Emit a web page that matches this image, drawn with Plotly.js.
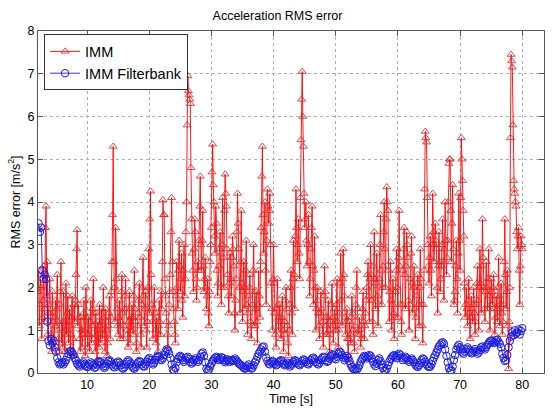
<!DOCTYPE html>
<html>
<head>
<meta charset="utf-8">
<script src="https://cdn.plot.ly/plotly-3.0.1.min.js"></script>
<style>html,body{margin:0;padding:0;background:#fff;}#chart{width:555px;height:410px;}</style>
</head>
<body>
<div id="chart"></div>
<script>
// Sampling of each series: first sample time and step (s)
var immStart = 2.1, immStep = 0.1;
var fbStart = 2.2, fbStep = 0.2;

// IMM acceleration RMS error [m/s^2], 10 samples per second from 2.1 s to 80.0 s
var immValues = [
  1.9, 2.4, 1.1, 1.6, 2.2, 2.0, 0.8, 1.3, 1.7, 2.5,
  1.2, 1.5, 3.4, 3.9, 1.8, 2.6, 0.9, 1.4, 1.6, 2.2,
  1.4, 0.9, 0.5, 1.9, 1.2, 0.6, 0.8, 1.3, 1.7, 1.1,
  1.5, 2.3, 1.0, 0.8, 0.5, 1.6, 1.9, 2.6, 0.7, 1.2,
  0.6, 1.9, 1.2, 0.5, 1.0, 2.1, 0.9, 1.4, 1.8, 0.7,
  1.1, 1.5, 0.5, 0.9, 1.3, 1.8, 0.8, 0.4, 1.6, 1.2,
  1.7, 2.3, 2.9, 3.35, 1.1, 1.6, 1.3, 0.8, 0.5, 1.3,
  1.0, 0.6, 0.9, 1.4, 1.7, 1.0, 0.4, 2.0, 1.3, 0.9,
  0.6, 1.3, 0.9, 0.5, 1.2, 1.7, 0.7, 1.1, 1.5, 2.2,
  1.4, 0.8, 0.5, 1.4, 0.9, 0.3, 1.2, 1.0, 0.6, 1.6,
  1.1, 0.7, 1.5, 1.2, 0.8, 2.0, 1.3, 0.9, 0.5, 1.5,
  1.0, 0.4, 0.7, 1.1, 1.4, 1.8, 0.8, 1.3, 1.9, 2.6,
  3.7, 5.3, 2.6, 2.0, 1.2, 3.4, 2.2, 1.5, 1.1, 0.9,
  1.3, 1.7, 0.8, 1.2, 1.9, 2.3, 1.4, 0.8, 1.1, 1.5,
  1.8, 2.2, 1.5, 1.0, 0.9, 0.6, 1.2, 1.9, 0.7, 1.3,
  1.0, 1.6, 1.3, 0.9, 1.8, 2.4, 1.5, 1.2, 0.5, 0.7,
  1.1, 1.4, 1.7, 2.1, 1.3, 0.9, 0.6, 1.6, 2.0, 2.7,
  1.8, 1.1, 1.5, 1.9, 1.0, 0.6, 1.2, 2.0, 2.9, 1.4,
  3.6, 4.25, 2.3, 1.6, 1.2, 0.8, 1.5, 2.0, 1.4, 1.0,
  0.7, 1.3, 0.9, 0.5, 1.1, 1.7, 1.2, 0.9, 1.9, 1.5,
  2.6, 4.05, 3.7, 3.7, 2.2, 1.8, 1.4, 1.2, 0.9, 0.6,
  1.1, 1.6, 1.9, 2.3, 3.3, 4.1, 2.6, 1.9, 1.5, 1.2,
  0.9, 0.7, 1.8, 2.6, 2.0, 1.5, 2.4, 3.1, 2.5, 1.9,
  2.2, 2.8, 1.7, 1.3, 2.4, 3.0, 1.8, 2.2, 3.3, 4.0,
  5.8, 6.95, 6.6, 6.5, 6.4, 6.3, 4.8, 3.6, 2.8, 2.4,
  1.9, 2.9, 3.6, 3.3, 2.2, 1.7, 2.0, 2.6, 2.4, 3.1,
  3.9, 4.6, 3.0, 2.4, 3.1, 3.8, 2.5, 1.9, 2.2, 2.7,
  2.0, 1.5, 1.8, 2.2, 1.4, 1.1, 1.9, 2.6, 3.0, 3.4,
  4.7, 5.35, 4.4, 4.0, 3.2, 2.8, 3.9, 3.5, 2.4, 1.8,
  2.1, 2.5, 2.9, 3.3, 2.0, 1.6, 3.0, 4.1, 2.7, 2.0,
  3.8, 4.65, 4.2, 3.9, 2.9, 2.3, 1.8, 1.4, 2.1, 2.8,
  2.2, 1.8, 2.7, 3.2, 2.9, 2.5, 1.4, 1.0, 1.7, 2.2,
  3.3, 4.2, 3.5, 2.9, 2.0, 1.4, 2.6, 3.8, 2.1, 1.2,
  1.9, 2.6, 2.0, 1.5, 2.4, 3.1, 1.6, 0.9, 1.4, 1.8,
  2.0, 2.3, 1.2, 0.8, 1.1, 1.6, 2.4, 3.0, 1.9, 1.1,
  1.5, 1.9, 1.2, 0.7, 1.6, 2.4, 1.8, 1.3, 2.6, 3.4,
  4.6, 5.3, 3.7, 2.8, 3.3, 4.0, 2.4, 1.6, 3.1, 4.3,
  3.9, 3.5, 3.8, 4.2, 3.0, 2.1, 1.5, 1.0, 2.2, 3.0,
  2.1, 1.4, 0.9, 0.6, 1.5, 2.2, 1.6, 1.0, 1.3, 1.6,
  1.2, 0.8, 1.3, 1.8, 1.0, 0.5, 0.9, 1.2, 1.7, 2.0,
  1.5, 1.1, 0.7, 0.4, 1.0, 1.6, 2.0, 2.4, 1.4, 0.9,
  2.2, 3.1, 2.3, 1.5, 3.2, 4.3, 3.4, 2.6, 3.0, 3.6,
  2.8, 2.2, 4.1, 5.45, 6.4, 7.05, 6.0, 5.3, 4.2, 3.4,
  3.6, 4.0, 3.1, 2.5, 3.0, 3.7, 2.6, 1.8, 2.2, 2.9,
  3.4, 3.9, 2.5, 1.6, 2.4, 3.2, 2.0, 1.0, 1.5, 2.0,
  1.7, 1.4, 1.1, 0.8, 1.4, 1.9, 1.5, 1.2, 0.9, 0.6,
  1.8, 2.5, 1.9, 1.3, 1.1, 0.9, 1.3, 1.7, 1.0, 0.5,
  0.9, 1.2, 1.6, 2.1, 1.3, 0.7, 1.1, 1.5, 1.2, 1.0,
  1.6, 2.2, 1.2, 0.6, 1.0, 1.4, 2.1, 2.8, 1.7, 1.1,
  2.2, 2.9, 2.3, 1.8, 1.3, 0.9, 1.2, 1.5, 0.8, 0.3,
  0.8, 1.2, 0.9, 0.7, 1.3, 1.8, 1.4, 1.0, 0.7, 0.5,
  1.1, 1.6, 2.0, 2.4, 1.5, 0.9, 1.0, 1.3, 0.9, 0.6,
  0.8, 1.1, 1.5, 1.9, 1.2, 0.8, 1.1, 1.4, 1.7, 2.0,
  2.3, 2.6, 1.8, 1.2, 2.2, 3.0, 2.3, 1.7, 1.2, 0.9,
  2.5, 3.3, 2.2, 1.5, 2.1, 2.8, 1.8, 1.1, 1.6, 2.2,
  3.0, 3.7, 2.4, 1.6, 2.0, 2.5, 3.3, 4.0, 2.9, 2.0,
  3.6, 4.35, 4.0, 3.8, 2.4, 1.2, 1.9, 2.6, 1.7, 1.0,
  1.6, 2.2, 1.4, 0.8, 1.3, 1.9, 2.4, 2.9, 2.0, 1.3,
  2.7, 3.8, 2.5, 1.6, 1.2, 0.9, 1.6, 2.4, 2.9, 3.4,
  2.3, 1.5, 2.5, 3.3, 3.0, 2.7, 1.7, 1.0, 1.6, 2.2,
  2.8, 3.2, 2.1, 1.4, 2.0, 2.5, 1.5, 0.8, 1.3, 1.8,
  2.1, 2.3, 1.6, 1.1, 2.0, 2.9, 2.2, 1.6, 1.1, 0.7,
  1.6, 2.4, 4.3, 5.65, 5.5, 5.4, 4.1, 3.0, 2.5, 2.1,
  2.7, 3.2, 2.4, 1.8, 3.0, 4.2, 3.3, 2.6, 3.0, 3.5,
  3.1, 2.9, 2.0, 1.4, 2.5, 3.3, 2.6, 1.9, 2.2, 2.5,
  3.0, 3.6, 2.6, 1.7, 2.9, 4.0, 3.1, 2.3, 2.7, 3.1,
  4.0, 4.9, 5.0, 5.0, 3.8, 2.6, 3.5, 4.4, 2.9, 1.6,
  1.7, 1.9, 2.5, 3.1, 2.2, 1.4, 2.8, 4.2, 3.1, 2.4,
  4.1, 5.5, 5.0, 4.5, 3.8, 3.2, 2.1, 1.3, 1.6, 2.0,
  1.5, 1.1, 1.7, 2.2, 1.4, 0.8, 1.3, 1.8, 1.5, 1.2,
  1.6, 2.0, 1.4, 0.9, 1.2, 1.6, 2.1, 2.5, 1.7, 1.0,
  2.0, 2.9, 2.1, 1.4, 2.5, 3.6, 2.7, 2.0, 1.5, 1.2,
  1.9, 2.6, 2.0, 1.5, 2.2, 2.9, 1.8, 1.0, 1.6, 2.2,
  1.9, 1.6, 2.0, 2.3, 1.5, 0.9, 1.3, 1.8, 1.5, 1.2,
  2.0, 2.7, 1.8, 1.1, 1.6, 2.1, 1.4, 0.9, 1.2, 1.6,
  2.6, 3.6, 2.3, 1.5, 1.9, 2.4, 1.1, 0.1, 1.2, 2.0,
  5.5, 7.45, 7.3, 7.15, 5.8, 4.5, 4.3, 4.2, 4.0, 3.9,
  3.3, 2.9, 3.2, 3.4, 2.4, 1.6, 2.5, 3.2, 3.0, 2.9
];

// IMM Filterbank acceleration RMS error [m/s^2], 5 samples per second from 2.2 s to 80.0 s
var filterbankValues = [
  3.5, 3.3, 3.4, 2.4, 2.2,
  2.3, 2.2, 1.2, 0.75, 0.65,
  0.8, 0.7, 0.75, 0.6, 0.5,
  0.35, 0.25, 0.2, 0.22, 0.25,
  0.2, 0.25, 0.3, 0.38, 0.45,
  0.5, 0.52, 0.48, 0.42, 0.35,
  0.3, 0.22, 0.18, 0.15, 0.2,
  0.22, 0.25, 0.2, 0.16, 0.14,
  0.15, 0.2, 0.25, 0.22, 0.18,
  0.12, 0.14, 0.2, 0.26, 0.28,
  0.25, 0.2, 0.15, 0.12, 0.16,
  0.22, 0.28, 0.3, 0.26, 0.2,
  0.15, 0.13, 0.18, 0.24, 0.27,
  0.24, 0.18, 0.12, 0.1, 0.14,
  0.2, 0.26, 0.3, 0.27, 0.22,
  0.16, 0.12, 0.1, 0.14, 0.2,
  0.25, 0.28, 0.26, 0.2, 0.16,
  0.15, 0.2, 0.26, 0.32, 0.35,
  0.3, 0.24, 0.2, 0.24, 0.3,
  0.36, 0.4, 0.38, 0.32, 0.3,
  0.35, 0.42, 0.5, 0.55, 0.52,
  0.45, 0.35, 0.2, 0.08, 0.05,
  0.12, 0.25, 0.33, 0.38, 0.4,
  0.36, 0.3, 0.26, 0.3, 0.35,
  0.38, 0.33, 0.26, 0.22, 0.25,
  0.3, 0.34, 0.3, 0.26, 0.3,
  0.38, 0.45, 0.48, 0.4, 0.25,
  0.1, 0.05, 0.08, 0.15, 0.22,
  0.28, 0.32, 0.36, 0.38, 0.35,
  0.3, 0.33, 0.37, 0.35, 0.3,
  0.25, 0.28, 0.32, 0.3, 0.26,
  0.3, 0.28, 0.3, 0.34, 0.3,
  0.26, 0.22, 0.2, 0.18, 0.15,
  0.12, 0.1, 0.12, 0.16, 0.2,
  0.14, 0.1, 0.12, 0.18, 0.25,
  0.3, 0.38, 0.45, 0.5, 0.55,
  0.6, 0.62, 0.5, 0.36, 0.28,
  0.22, 0.2, 0.25, 0.28, 0.26,
  0.22, 0.18, 0.2, 0.25, 0.28,
  0.3, 0.27, 0.22, 0.18, 0.2,
  0.24, 0.2, 0.15, 0.18, 0.22,
  0.26, 0.3, 0.28, 0.24, 0.2,
  0.18, 0.22, 0.28, 0.32, 0.3,
  0.26, 0.22, 0.2, 0.24, 0.3,
  0.34, 0.36, 0.32, 0.26, 0.22,
  0.2, 0.24, 0.3, 0.35, 0.38,
  0.36, 0.3, 0.26, 0.28, 0.34,
  0.4, 0.44, 0.42, 0.36, 0.32,
  0.38, 0.45, 0.5, 0.48, 0.42,
  0.36, 0.3, 0.35, 0.4, 0.36,
  0.28, 0.2, 0.14, 0.1, 0.08,
  0.1, 0.08, 0.12, 0.18, 0.26,
  0.32, 0.36, 0.4, 0.38, 0.34,
  0.38, 0.42, 0.4, 0.34, 0.26,
  0.2, 0.16, 0.22, 0.3, 0.34,
  0.28, 0.2, 0.12, 0.06, 0.05,
  0.1, 0.18, 0.26, 0.32, 0.36,
  0.4, 0.42, 0.38, 0.35, 0.4,
  0.45, 0.42, 0.36, 0.3, 0.34,
  0.38, 0.35, 0.3, 0.26, 0.3,
  0.34, 0.3, 0.25, 0.2, 0.16,
  0.14, 0.18, 0.24, 0.3, 0.34,
  0.32, 0.26, 0.2, 0.16, 0.14,
  0.15, 0.2, 0.28, 0.36, 0.42,
  0.48, 0.55, 0.62, 0.66, 0.7,
  0.72, 0.68, 0.55, 0.4, 0.25,
  0.12, 0.05, 0.06, 0.15, 0.3,
  0.42, 0.55, 0.62, 0.66, 0.6,
  0.55, 0.48, 0.45, 0.5, 0.56,
  0.6, 0.55, 0.5, 0.46, 0.48,
  0.52, 0.56, 0.5, 0.45, 0.48,
  0.54, 0.6, 0.62, 0.58, 0.55,
  0.6, 0.66, 0.7, 0.74, 0.76,
  0.74, 0.7, 0.72, 0.76, 0.78,
  0.72, 0.68, 0.6, 0.45, 0.35,
  0.28, 0.3, 0.42, 0.6, 0.75,
  0.85, 0.95, 0.88, 1.0, 0.92,
  0.95, 1.02, 0.9, 0.98, 1.05
];

var xTicks = [10, 20, 30, 40, 50, 60, 70, 80];
var yTicks = [0, 1, 2, 3, 4, 5, 6, 7, 8];

var immTimes = immValues.map(function (_, i) { return +(immStart + i * immStep).toFixed(2); });
var fbTimes = filterbankValues.map(function (_, i) { return +(fbStart + i * fbStep).toFixed(2); });

var font = "Liberation Sans, Arial, Helvetica, sans-serif";

var traces = [
  {
    x: immTimes, y: immValues, name: "IMM", type: "scatter", mode: "lines+markers",
    line: {color: "#ff0000", width: 0.9},
    marker: {symbol: "triangle-up-open", size: 7, color: "#dd2222", line: {width: 0.8}}
  },
  {
    x: fbTimes, y: filterbankValues, name: "IMM Filterbank", type: "scatter", mode: "lines+markers",
    line: {color: "#0000ff", width: 0.8},
    marker: {symbol: "circle-open", size: 7.5, color: "#1c1ce0", line: {width: 1}}
  }
];

var axisCommon = {
  showline: true, mirror: "ticks", linecolor: "#555", linewidth: 1,
  ticks: "inside", ticklen: 5, tickcolor: "#555",
  showgrid: true, gridcolor: "#b0b0b0", griddash: "dot", gridwidth: 1,
  zeroline: false, tickfont: {family: font, size: 12.5, color: "#000"}
};

var layout = {
  width: 555, height: 410,
  margin: {l: 38, r: 11, t: 31, b: 37},
  paper_bgcolor: "#fff", plot_bgcolor: "#fff",
  font: {family: font, color: "#000"},
  title: {text: "Acceleration RMS error", font: {family: font, size: 12.5, color: "#000"},
          x: 0.5, xref: "container", xanchor: "center", y: 0.963, yref: "container", yanchor: "middle"},
  xaxis: Object.assign({}, axisCommon, {
    range: [2.1, 83.5], tickvals: xTicks, ticktext: xTicks.map(String),
    title: {text: "Time [s]", font: {family: font, size: 12.5, color: "#000"}, standoff: 2}
  }),
  yaxis: Object.assign({}, axisCommon, {
    range: [0, 8], tickvals: yTicks, ticktext: yTicks.map(String),
    title: {text: "RMS error [m/s<sup>2</sup>]", font: {family: font, size: 12.5, color: "#000"}, standoff: 4}
  }),
  showlegend: true,
  legend: {
    x: 0.012, y: 0.99, xanchor: "left", yanchor: "top",
    bgcolor: "#fff", bordercolor: "#333", borderwidth: 1,
    font: {family: font, size: 14.5, color: "#000"},
    itemwidth: 30, tracegroupgap: 0
  }
};

Plotly.newPlot("chart", traces, layout, {displayModeBar: false, staticPlot: true});
</script>
</body>
</html>
